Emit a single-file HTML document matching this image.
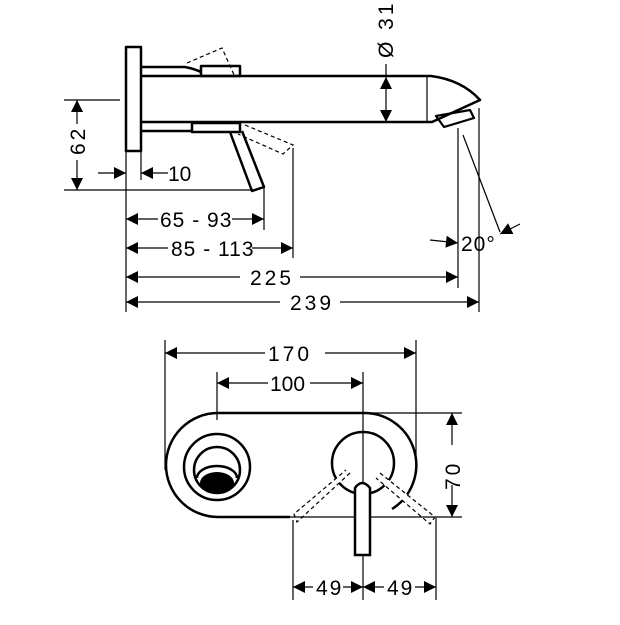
<!DOCTYPE html>
<html><head><style>html,body{margin:0;padding:0;background:#fff}</style></head><body>
<svg width="620" height="620" viewBox="0 0 620 620" xmlns="http://www.w3.org/2000/svg" font-family="Liberation Sans, sans-serif">
<defs>
<marker id="a" viewBox="0 0 10 10" refX="10" refY="5" markerWidth="14" markerHeight="12" markerUnits="userSpaceOnUse" orient="auto-start-reverse"><path d="M0,0L10,5L0,10z" fill="#000"/></marker>
</defs>
<g fill="none" stroke="#000" stroke-width="2.5" stroke-linejoin="round">
<rect x="126" y="47" width="15" height="104"/>
<path d="M141,67 H185 Q195,69 201,72"/>
<path d="M141,131 H192"/>
<path d="M141,76 H431 Q462,80 480,100 L432,122 H141"/>
<rect x="201" y="66" width="39" height="10"/>
<rect x="192" y="123" width="48" height="9"/>
<path d="M230,132 L252,191 L264,187 L242,131"/>
<path d="M436,116 L470,110 L474,118 L444,127 Z" stroke-width="2.2"/>
</g>
<g fill="none" stroke="#000" stroke-width="1.2">
<line x1="427" y1="77" x2="427" y2="122"/>
<path d="M187,63 L222,48 L235,77" stroke-dasharray="4,3"/>
<path d="M245,125 L293,145 L283,154 L238,134" stroke-dasharray="4,3"/>
<line x1="64" y1="100" x2="120" y2="100"/>
<line x1="64" y1="190" x2="257" y2="190"/>
<line x1="126" y1="152" x2="126" y2="312"/>
<line x1="141" y1="152" x2="141" y2="180"/>
<line x1="264" y1="188" x2="264" y2="230"/>
<line x1="293" y1="148" x2="293" y2="258"/>
<line x1="458" y1="128" x2="458" y2="288"/>
<line x1="479" y1="108" x2="479" y2="312"/>
<line x1="463" y1="135" x2="500" y2="232"/>
<line x1="386" y1="64" x2="386" y2="76"/>
<line x1="77" y1="100" x2="77" y2="124" marker-start="url(#a)"/>
<line x1="77" y1="160" x2="77" y2="190" marker-end="url(#a)"/>
<line x1="98" y1="173" x2="126" y2="173" marker-end="url(#a)"/>
<line x1="168" y1="173" x2="141" y2="173" marker-end="url(#a)"/>
<line x1="126" y1="219" x2="158" y2="219" marker-start="url(#a)"/>
<line x1="232" y1="219" x2="264" y2="219" marker-end="url(#a)"/>
<line x1="126" y1="248" x2="168" y2="248" marker-start="url(#a)"/>
<line x1="252" y1="248" x2="293" y2="248" marker-end="url(#a)"/>
<line x1="126" y1="277" x2="240" y2="277" marker-start="url(#a)"/>
<line x1="300" y1="277" x2="458" y2="277" marker-end="url(#a)"/>
<line x1="126" y1="302" x2="280" y2="302" marker-start="url(#a)"/>
<line x1="340" y1="302" x2="479" y2="302" marker-end="url(#a)"/>
<line x1="386" y1="77" x2="386" y2="122" marker-start="url(#a)" marker-end="url(#a)"/>
<line x1="430" y1="240" x2="458" y2="243" marker-end="url(#a)"/>
<line x1="520" y1="224" x2="500" y2="234" marker-end="url(#a)"/>
</g>
<g font-size="21" fill="#000">
<text x="168" y="181">10</text>
<text x="160" y="227" letter-spacing="1">65 - 93</text>
<text x="171" y="256" letter-spacing="1">85 - 113</text>
<text x="250" y="285" letter-spacing="3">225</text>
<text x="290" y="310" letter-spacing="3">239</text>
<text x="461" y="251" letter-spacing="1">20°</text>
<text transform="translate(85,155) rotate(-90)" letter-spacing="3">62</text>
<text transform="translate(393,58) rotate(-90)" letter-spacing="3">Ø 31</text>
<text x="268" y="361" letter-spacing="3">170</text>
<text x="270" y="391">100</text>
<text transform="translate(460,490) rotate(-90)" letter-spacing="3">70</text>
<text x="316" y="595" letter-spacing="2">49</text>
<text x="387" y="595" letter-spacing="2">49</text>
</g>
<g fill="none" stroke="#000" stroke-width="2.5">
<path d="M290,517 H218 A52,52 0 0 1 218,413 H365 A52,52 0 0 1 392,509"/>
<circle cx="363" cy="463" r="31"/>
<circle cx="217" cy="467" r="33"/>
<circle cx="217" cy="470" r="23"/>
<path d="M197,478 A20,12 0 0 1 237,478"/>
</g>
<ellipse cx="217" cy="483" rx="17" ry="11" fill="#000"/>
<g fill="none" stroke="#000" stroke-width="1.2">
<path d="M350,473 L297,522 L294,514 L346,470" stroke-dasharray="4,3" fill="#fff"/>
<path d="M380,473 L435,517 L430,524 L376,478" stroke-dasharray="4,3" fill="#fff"/>
<line x1="165" y1="340" x2="165" y2="470"/>
<line x1="416" y1="340" x2="416" y2="470"/>
<line x1="217" y1="372" x2="217" y2="420"/>
<line x1="363" y1="372" x2="363" y2="600"/>
<line x1="363" y1="413" x2="462" y2="413"/>
<line x1="290" y1="517" x2="462" y2="517"/>
<line x1="293" y1="520" x2="293" y2="600"/>
<line x1="436" y1="518" x2="436" y2="600"/>
<line x1="165" y1="353" x2="265" y2="353" marker-start="url(#a)"/>
<line x1="325" y1="353" x2="416" y2="353" marker-end="url(#a)"/>
<line x1="217" y1="383" x2="268" y2="383" marker-start="url(#a)"/>
<line x1="310" y1="383" x2="363" y2="383" marker-end="url(#a)"/>
<line x1="452" y1="413" x2="452" y2="445" marker-start="url(#a)"/>
<line x1="452" y1="485" x2="452" y2="517" marker-end="url(#a)"/>
<line x1="293" y1="587" x2="313" y2="587" marker-start="url(#a)"/>
<line x1="343" y1="587" x2="363" y2="587" marker-end="url(#a)"/>
<line x1="363" y1="587" x2="384" y2="587" marker-start="url(#a)"/>
<line x1="415" y1="587" x2="436" y2="587" marker-end="url(#a)"/>
</g>
<path d="M355,555 V488 Q362,478 370,488 V555 Z" fill="#fff" stroke="#000" stroke-width="2.5"/>
</svg>
</body></html>
